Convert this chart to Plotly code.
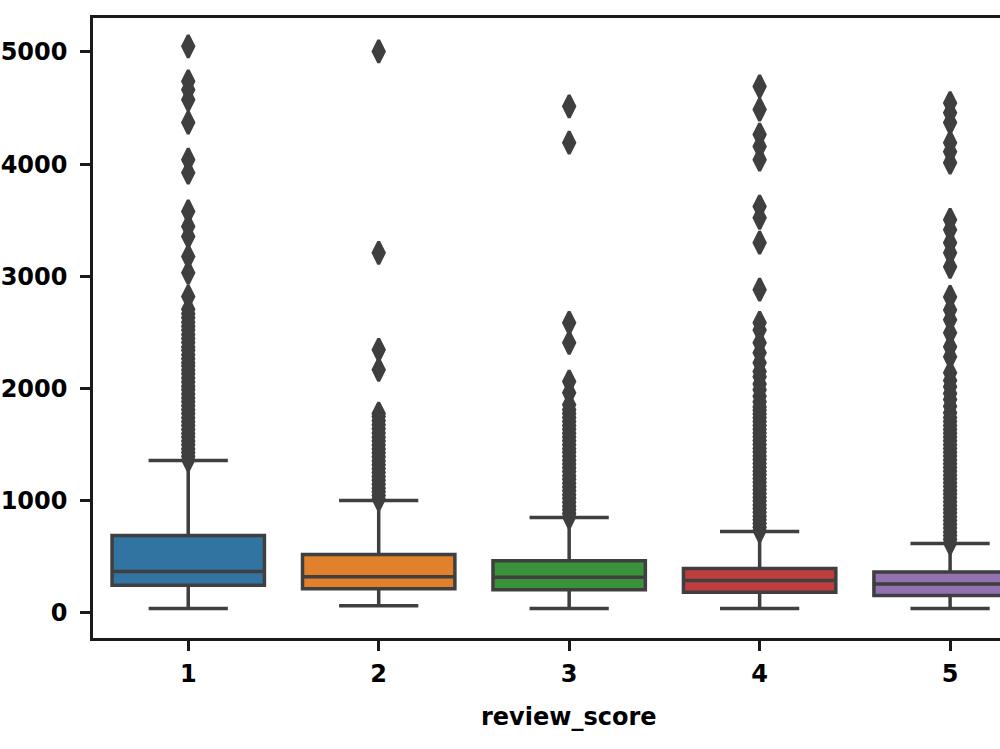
import plotly.graph_objects as go

categories = ["1", "2", "3", "4", "5"]
colors = ["#3274A1", "#E1812C", "#3A923A", "#C03D3E", "#9372B2"]

q1 = [244, 214, 205, 181, 152]
median = [366, 321, 315, 286, 256]
q3 = [688, 518, 464, 393, 363]
lowerfence = [36, 62, 36, 36, 36]
upperfence = [1357, 1000, 848, 723, 616]

outliers_1 = [1362, 1395, 1428, 1460, 1497, 1530, 1566, 1598, 1634, 1670, 1702, 1738,
              1775, 1810, 1845, 1880, 1915, 1950, 1988, 2020, 2058, 2092, 2130, 2165,
              2200, 2228, 2265, 2300, 2340, 2370, 2410, 2445, 2480, 2520, 2555, 2590,
              2630, 2665, 2705, 2819, 3031, 3176, 3355, 3444, 3578, 3923, 4039, 4370,
              4575, 4664, 4738, 5050]
outliers_2 = [1012, 1045, 1078, 1110, 1146, 1180, 1214, 1250, 1284, 1318, 1352, 1390,
              1425, 1460, 1495, 1530, 1565, 1603, 1640, 1676, 1712, 1750, 1775, 2166,
              2344, 3209, 5005]
outliers_3 = [852, 885, 918, 950, 985, 1020, 1052, 1088, 1120, 1155, 1190, 1222, 1258,
              1292, 1325, 1360, 1395, 1430, 1462, 1498, 1532, 1566, 1600, 1636, 1670,
              1705, 1740, 1775, 1810, 1853, 1960, 2061, 2406, 2585, 4191, 4515]
outliers_4 = [730, 762, 795, 828, 860, 895, 928, 960, 995, 1028, 1062, 1095, 1130, 1162,
              1196, 1230, 1262, 1296, 1330, 1365, 1398, 1432, 1465, 1500, 1535, 1568,
              1602, 1636, 1670, 1704, 1738, 1772, 1805, 1835, 1880, 1930, 1987, 2040,
              2103, 2150, 2228, 2317, 2406, 2520, 2585, 2880, 3299, 3521, 3622, 4040,
              4158, 4263, 4486, 4693]
outliers_5 = [622, 655, 688, 720, 755, 788, 822, 855, 890, 922, 956, 990, 1024, 1058,
              1090, 1125, 1158, 1192, 1226, 1260, 1294, 1328, 1362, 1396, 1430, 1464,
              1498, 1532, 1566, 1600, 1634, 1668, 1704, 1740, 1782, 1840, 1900, 1955,
              2015, 2070, 2139, 2282, 2371, 2496, 2612, 2700, 2816, 3084, 3209, 3299,
              3414, 3503, 4013, 4111, 4191, 4370, 4458, 4545]
outliers = [outliers_1, outliers_2, outliers_3, outliers_4, outliers_5]

y_ticks = [0, 1000, 2000, 3000, 4000, 5000]
x_title = "review_score"

edge = "#3f3f3f"
font = dict(family="DejaVu Sans", size=24, color="#000000", weight="bold")

fig = go.Figure()
for i, cat in enumerate(categories):
    fig.add_trace(go.Box(
        x=[cat], q1=[q1[i]], median=[median[i]], q3=[q3[i]],
        lowerfence=[lowerfence[i]], upperfence=[upperfence[i]],
        boxpoints=False, width=0.8, whiskerwidth=0.52,
        fillcolor=colors[i], line=dict(color=edge, width=3.5),
        showlegend=False, hoverinfo="skip",
    ))
for i, cat in enumerate(categories):
    fig.add_trace(go.Scatter(
        x=[cat] * len(outliers[i]), y=outliers[i], mode="markers",
        marker=dict(symbol="diamond-tall", size=16, color=edge,
                    line=dict(color=edge, width=3)),
        showlegend=False, hoverinfo="skip",
    ))

fig.add_annotation(x=2, xref="x", y=-0.128, yref="paper", text=x_title,
                   showarrow=False, font=font, xanchor="center", yanchor="middle")

fig.update_layout(
    width=1000, height=749,
    margin=dict(l=93, r=0, t=18, b=111, pad=0),
    paper_bgcolor="white", plot_bgcolor="white",
    boxmode="overlay",
    xaxis=dict(type="category", categoryorder="array", categoryarray=categories,
               range=[-0.5, 4.262], showgrid=False, zeroline=False,
               showline=True, linecolor="#1a1a1a", linewidth=2.5, mirror=True,
               ticks="outside", ticklen=10, tickwidth=2.5, tickcolor="#1a1a1a",
               tickfont=font, ticklabelstandoff=2),
    yaxis=dict(range=[-226, 5303], tickvals=y_ticks, showgrid=False, zeroline=False,
               showline=True, linecolor="#1a1a1a", linewidth=2.5, mirror=False,
               ticks="outside", ticklen=10, tickwidth=2.5, tickcolor="#1a1a1a",
               tickfont=font, ticklabelstandoff=8),
)

fig.write_html("out.html")
